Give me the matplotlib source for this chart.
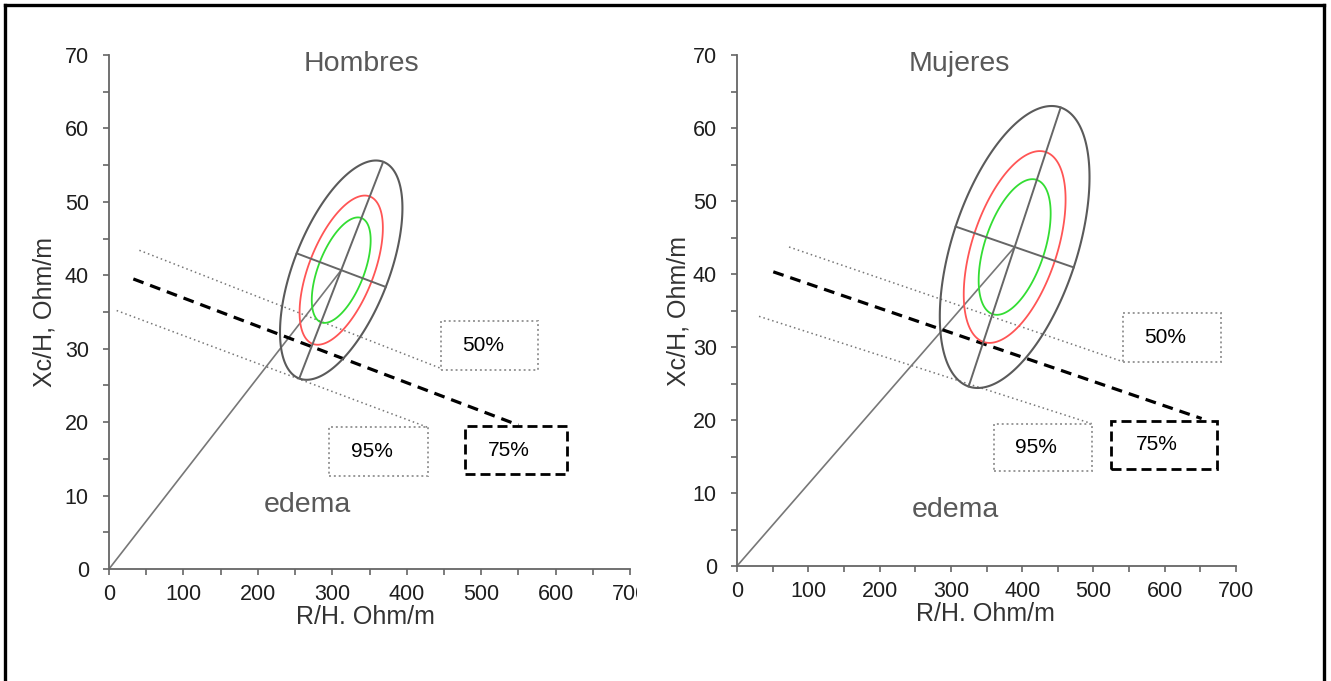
import numpy as np
import matplotlib
matplotlib.use("Agg")
import matplotlib.pyplot as plt
from matplotlib.patches import Rectangle, Polygon
from matplotlib.lines import Line2D

plt.rcParams['font.family'] = ['Liberation Sans', 'DejaVu Sans']

# ---------------- data ----------------
panels = ["Hombres", "Mujeres"]
mean_R = [312.0, 389.5]
mean_Xc = [40.7, 43.7]
sd_R = [33.6, 42.9]
sd_Xc = [6.1, 7.89]
corr_r = [0.566, 0.494]
percentiles = [0.50, 0.75, 0.95]
ellipse_colors = ["#33dd33", "#ff5555", "#5a5a5a"]

# edema tolerance lines: (x0, y0, x1, y1)
line50 = [(40.8, 43.4, 446.4, 27.3), (73.0, 43.7, 541.0, 28.0)]
line75 = [(32.7, 39.5, 550.0, 19.6), (50.9, 40.3, 651.8, 20.2)]
line95 = [(10.3, 35.2, 428.0, 19.3), (30.9, 34.2, 497.6, 19.5)]

# label boxes: (x0, x1, y0, y1)
box50 = [(446.4, 577.0, 27.1, 33.8), (541.0, 678.6, 28.0, 34.7)]
box75 = [(478.0, 615.0, 12.9, 19.5), (524.6, 672.9, 13.3, 19.9)]
box95 = [(296.0, 428.0, 12.7, 19.3), (360.5, 497.6, 13.0, 19.5)]
box_labels = ["50%", "75%", "95%"]

title_pos = [(338.6, 68.8), (311.4, 68.8)]
edema_pos = [(266.5, 8.7), (307.0, 7.7)]

xticks = [0, 100, 200, 300, 400, 500, 600, 700]
yticks = [0, 10, 20, 30, 40, 50, 60, 70]

# ---------------- figure ----------------
fig = plt.figure(figsize=(13.31, 6.81), dpi=100)
W, H = 1331, 681
ax_px = [(109, 630, 569, 55), (737, 1236, 566, 55)]  # x0, x1, y0(bottom), y1(top)

for i in range(2):
    x0, x1, yb, yt = ax_px[i]
    ax = fig.add_axes([x0 / W, (H - yb) / H, (x1 - x0) / W, (yb - yt) / H])
    ax.set_xlim(0, 700)
    ax.set_ylim(0, 70)
    for s in ["top", "right"]:
        ax.spines[s].set_visible(False)
    for s in ["left", "bottom"]:
        ax.spines[s].set_color("#666666")
        ax.spines[s].set_linewidth(1.3)
    ax.set_xticks(xticks)
    ax.set_yticks(yticks)
    ax.set_xticks(np.arange(50, 700, 100), minor=True)
    ax.set_yticks(np.arange(5, 70, 10), minor=True)
    ax.tick_params(which="both", direction="out", color="#666666", width=1.2, length=4.5,
                   labelsize=15.5, labelcolor="#1e1e1e")
    ax.tick_params(axis="x", pad=6)
    ax.tick_params(axis="y", pad=10)

    ax.set_xlabel("R/H. Ohm/m", fontsize=18, color="#333333")
    ax.set_ylabel("Xc/H, Ohm/m", fontsize=18, color="#333333")
    ax.xaxis.label.set_va("center")
    ax.yaxis.label.set_va("center")
    ax.yaxis.label.set_ha("center")
    if i == 0:
        ax.xaxis.set_label_coords(0.493, -0.093)
        ax.yaxis.set_label_coords(-0.123, 0.5)
    else:
        ax.xaxis.set_label_coords(0.497, -0.094)
        ax.yaxis.set_label_coords(-0.118, 0.5)

    mx, my = mean_R[i], mean_Xc[i]
    cov = np.array([[sd_R[i] ** 2, corr_r[i] * sd_R[i] * sd_Xc[i]],
                    [corr_r[i] * sd_R[i] * sd_Xc[i], sd_Xc[i] ** 2]])
    L = np.linalg.cholesky(cov)
    t = np.linspace(0, 2 * np.pi, 400, endpoint=False)
    circ = np.vstack([np.cos(t), np.sin(t)])
    for p, c in zip(percentiles, ellipse_colors):
        k = np.sqrt(-2 * np.log(1 - p))
        pts = k * (L @ circ)
        lw = 1.5 if p == 0.95 else 1.3
        ax.add_patch(Polygon(np.column_stack([mx + pts[0], my + pts[1]]), closed=True,
                             fill=False, edgecolor=c, lw=lw, zorder=3))

    # principal axes of the 95% ellipse (in display-like scaled space)
    k95 = np.sqrt(-2 * np.log(1 - 0.95))
    S = np.diag([0.1, 1.0])
    cs = S @ cov @ S
    vals, vecs = np.linalg.eigh(cs)
    for j in range(2):
        v = vecs[:, j] * np.sqrt(vals[j]) * k95
        v = np.array([v[0] * 10.0, v[1]])
        ax.plot([mx - v[0], mx + v[0]], [my - v[1], my + v[1]], color="#666666", lw=1.4, zorder=3)

    # line from origin to mean
    ax.plot([0, mx], [0, my], color="#777777", lw=1.2, zorder=2)

    # tolerance lines
    a = line50[i]
    ax.plot([a[0], a[2]], [a[1], a[3]], color="#777777", lw=1.1, ls=(0, (1, 2)), zorder=2)
    a = line95[i]
    ax.plot([a[0], a[2]], [a[1], a[3]], color="#777777", lw=1.1, ls=(0, (1, 2)), zorder=2)
    a = line75[i]
    ax.plot([a[0], a[2]], [a[1], a[3]], color="black", lw=2.3, ls=(0, (3.4, 2.2)), zorder=2)

    # boxes
    for b, lab in zip([box50[i], box75[i], box95[i]], box_labels):
        if lab == "75%":
            rect = Rectangle((b[0], b[2]), b[1] - b[0], b[3] - b[2], fill=False,
                             edgecolor="black", lw=2.0, ls=(0, (3.6, 1.8)), zorder=4)
        else:
            rect = Rectangle((b[0], b[2]), b[1] - b[0], b[3] - b[2], fill=False,
                             edgecolor="#999999", lw=1.4, ls=(0, (1, 1.5)), zorder=4)
        ax.add_patch(rect)
        ax.text(b[0] + 0.43 * (b[1] - b[0]), (b[2] + b[3]) / 2, lab, fontsize=15,
                color="black", ha="center", va="center", zorder=5)

    ax.text(title_pos[i][0], title_pos[i][1], panels[i], fontsize=20.5, color="#595959",
            ha="center", va="center")
    ax.text(edema_pos[i][0], edema_pos[i][1], "edema", fontsize=20.5, color="#595959",
            ha="center", va="center")

# clipped "700" label on left panel (as in reference)
fig.patches.append(Rectangle((637 / W, (H - 610) / H), 25 / W, 30 / H, transform=fig.transFigure,
                             facecolor="white", edgecolor="none", zorder=10))

# outer frame (left, top, right)
fl = dict(transform=fig.transFigure, color="black", lw=2.4)
fig.lines.append(Line2D([5 / W, 5 / W], [0, 1 - 5 / H], **fl))
fig.lines.append(Line2D([5 / W, 1324 / W], [1 - 5 / H, 1 - 5 / H], **fl))
fig.lines.append(Line2D([1324 / W, 1324 / W], [0, 1 - 5 / H], **fl))

fig.savefig("out.png", dpi=100)
